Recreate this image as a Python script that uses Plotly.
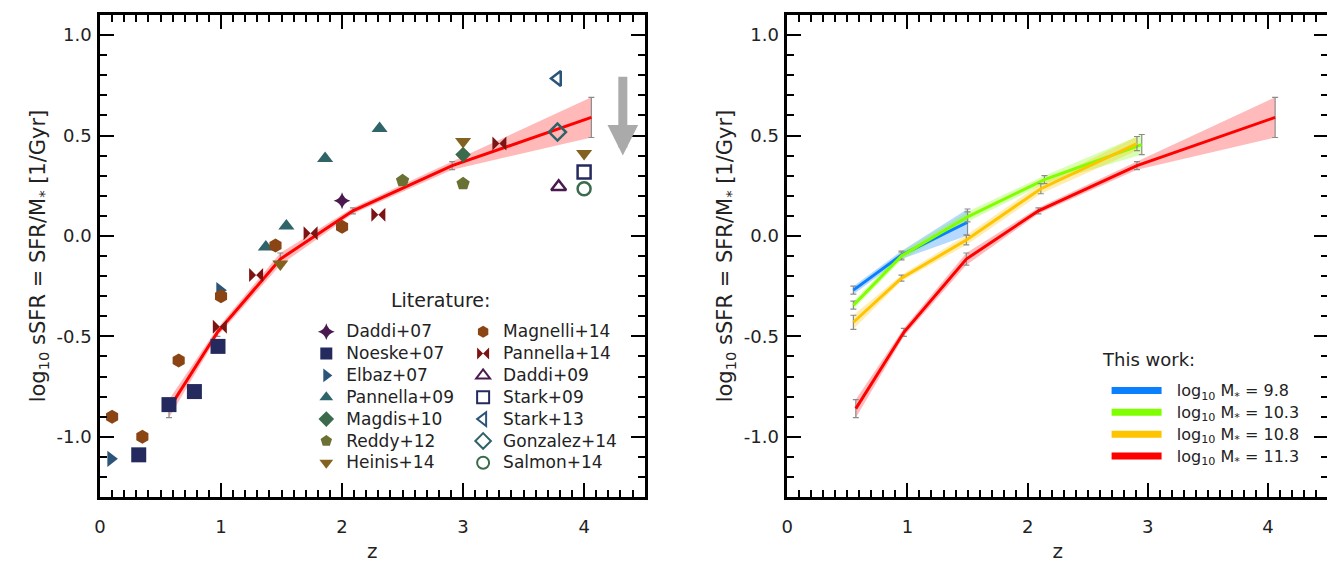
import plotly.graph_objects as go

# ---------------- data ----------------
# Literature points (z, log10 sSFR)
daddi07_z = [2.0];                      daddi07_y = [0.175]
noeske07_z = [0.32, 0.57, 0.78, 0.975]; noeske07_y = [-1.09, -0.84, -0.775, -0.55]
elbaz07_z = [0.09, 0.99];               elbaz07_y = [-1.11, -0.27]
pannella09_z = [1.37, 1.54, 1.86, 2.31]; pannella09_y = [-0.055, 0.05, 0.385, 0.535]
magdis10_z = [3.0];                     magdis10_y = [0.405]
reddy12_z = [2.5, 3.0];                 reddy12_y = [0.275, 0.26]
heinis14_z = [1.49, 3.0, 4.0];          heinis14_y = [-0.14, 0.47, 0.41]
magnelli14_z = [0.1, 0.35, 0.65, 1.0, 1.45, 2.0]
magnelli14_y = [-0.90, -1.0, -0.62, -0.30, -0.048, 0.046]
pannella14_z = [0.99, 1.29, 1.74, 2.3, 3.3]
pannella14_y = [-0.452, -0.195, 0.013, 0.105, 0.46]
daddi09_z = [3.79];                     daddi09_y = [0.245]
stark09_z = [4.0];                      stark09_y = [0.318]
stark13_z = [3.78];                     stark13_y = [0.784]
gonzalez14_z = [3.78];                  gonzalez14_y = [0.517]
salmon14_z = [4.0];                     salmon14_y = [0.235]

# This work: four stellar-mass bins
m98_z = [0.55, 0.95, 1.50];             m98_y = [-0.27, -0.095, 0.068];  m98_e = [0.02, 0.02, 0.066]
m103_z = [0.55, 0.95, 1.50, 2.14, 2.95]; m103_y = [-0.345, -0.10, 0.095, 0.28, 0.455]
m103_e = [0.02, 0.02, 0.025, 0.02, 0.05]
m108_z = [0.55, 0.95, 1.49, 2.11, 2.91]; m108_y = [-0.43, -0.21, -0.02, 0.235, 0.46]
m108_e = [0.035, 0.015, 0.025, 0.025, 0.035]
m113_z = [0.57, 0.97, 1.49, 2.09, 2.91, 4.06]; m113_y = [-0.86, -0.48, -0.115, 0.125, 0.35, 0.59]
m113_e = [0.045, 0.02, 0.03, 0.015, 0.02, 0.10]

ytick_vals = [-1.0, -0.5, 0.0, 0.5, 1.0]
ytick_text = ["-1.0", "-0.5", "0.0", "0.5", "1.0"]
xtick_vals = [0, 1, 2, 3, 4]
xtick_text = ["0", "1", "2", "3", "4"]

arrow_z = 4.32; arrow_top = 0.80; arrow_tip = 0.40

FONT = "DejaVu Sans"
fig = go.Figure()


def big(s, px):
    return '<span style="font-size:%dpx">%s</span>' % (px, s)


def band(z, y, e, color, xa, ya):
    up = [a + b for a, b in zip(y, e)]
    lo = [a - b for a, b in zip(y, e)]
    fig.add_trace(go.Scatter(x=list(z) + list(z)[::-1], y=up + lo[::-1], fill="toself",
                             fillcolor=color, line=dict(width=0), mode="lines",
                             showlegend=False, hoverinfo="skip", xaxis=xa, yaxis=ya))


def line(z, y, e, color, xa, ya, width=3):
    fig.add_trace(go.Scatter(x=z, y=y, mode="lines", line=dict(color=color, width=width),
                             error_y=dict(type="data", array=e, color="#8c8c8c",
                                          thickness=1.2, width=3),
                             showlegend=False, xaxis=xa, yaxis=ya))


# ---- left panel: red band + line ----
band(m113_z, m113_y, m113_e, "rgba(255,80,80,0.40)", "x", "y")
line(m113_z, m113_y, m113_e, "#ff0000", "x", "y")

# ---- literature markers ----
lit = [
    ("Daddi+07", daddi07_z, daddi07_y, "star-diamond", "#4a1a4f", "legend", 12),
    ("Noeske+07", noeske07_z, noeske07_y, "square", "#252a5e", "legend", 15),
    ("Elbaz+07", elbaz07_z, elbaz07_y, "triangle-right", "#2b5479", "legend", 14),
    ("Pannella+09", pannella09_z, pannella09_y, "triangle-up", "#2f6469", "legend", 14),
    ("Magdis+10", magdis10_z, magdis10_y, "diamond", "#3b6b4c", "legend", 12),
    ("Reddy+12", reddy12_z, reddy12_y, "pentagon", "#6b7033", "legend", 14),
    ("Heinis+14", heinis14_z, heinis14_y, "triangle-down", "#836220", "legend", 14),
    ("Magnelli+14", magnelli14_z, magnelli14_y, "hexagon", "#8b4515", "legend2", 14),
    ("Pannella+14", pannella14_z, pannella14_y, "bowtie", "#7d1414", "legend2", 14),
    ("Daddi+09", daddi09_z, daddi09_y, "triangle-up-open", "#4a1a4f", "legend2", 13),
    ("Stark+09", stark09_z, stark09_y, "square-open", "#252a5e", "legend2", 13),
    ("Stark+13", stark13_z, stark13_y, "triangle-left-open", "#2b5479", "legend2", 13),
    ("Gonzalez+14", gonzalez14_z, gonzalez14_y, "diamond-open", "#2f6469", "legend2", 13),
    ("Salmon+14", salmon14_z, salmon14_y, "circle-open", "#3b6b4c", "legend2", 13),
]
for name, z, y, sym, col, leg, sz in lit:
    is_open = sym.endswith("open")
    fig.add_trace(go.Scatter(
        x=z, y=y, mode="markers", name=big(name, 17), legend=leg,
        marker=dict(symbol=sym, size=sz, color=col,
                    line=dict(color=col, width=2.5 if is_open else 0)),
        xaxis="x", yaxis="y"))

# ---- right panel ----
series = [
    ("log<sub>10</sub> M<sub>*</sub> = 9.8", m98_z, m98_y, m98_e, "#0a80ff", "rgba(10,128,255,0.30)"),
    ("log<sub>10</sub> M<sub>*</sub> = 10.3", m103_z, m103_y, m103_e, "#80ff00", "rgba(128,255,0,0.30)"),
    ("log<sub>10</sub> M<sub>*</sub> = 10.8", m108_z, m108_y, m108_e, "#ffc400", "rgba(255,196,0,0.30)"),
    ("log<sub>10</sub> M<sub>*</sub> = 11.3", m113_z, m113_y, m113_e, "#ff0000", "rgba(255,60,60,0.35)"),
]
for name, z, y, e, col, bcol in series:
    band(z, y, e, bcol, "x2", "y2")
for name, z, y, e, col, bcol in series:
    line(z, y, e, col, "x2", "y2")
for name, z, y, e, col, bcol in series:
    fig.add_trace(go.Scatter(x=[None], y=[None], mode="lines",
                             name=big("&nbsp;&nbsp;" + name, 16), legend="legend3",
                             line=dict(color=col, width=7), xaxis="x2", yaxis="y2"))

# ---- gray arrow (upper-limit indicator) ----
fig.add_annotation(x=arrow_z, y=arrow_tip, ax=arrow_z, ay=arrow_top, xref="x", yref="y",
                   axref="x", ayref="y", showarrow=True, arrowhead=2, arrowsize=0.68,
                   arrowwidth=9, arrowcolor="#aaaaaa", text="")

# ---- legend titles ----
fig.add_annotation(text="Literature:", x=0.277, y=0.409, xref="paper", yref="paper",
                   showarrow=False, font=dict(family=FONT, size=19, color="#222"),
                   xanchor="center", yanchor="middle")
fig.add_annotation(text="This work:", x=0.814, y=0.285, xref="paper", yref="paper",
                   showarrow=False, font=dict(family=FONT, size=18, color="#222"),
                   xanchor="left", yanchor="middle")

ytitle = "log<sub>10</sub> sSFR = SFR/M<sub>*</sub> [1/Gyr]"


def xaxis_cfg(domain, anchor):
    return dict(domain=domain, anchor=anchor, range=[0, 4.5], tickmode="array",
                tickvals=xtick_vals, ticktext=xtick_text, ticks="inside", ticklen=14,
                tickwidth=2, tickcolor="black", showline=True, linewidth=2.5,
                linecolor="black", mirror="ticks", showgrid=False, zeroline=False,
                ticklabelstandoff=12,
                minor=dict(dtick=0.1, tick0=0, ticks="inside", ticklen=7, tickwidth=1.6,
                           tickcolor="black", showgrid=False),
                tickfont=dict(family=FONT, size=18, color="#222"),
                title=dict(text="z", font=dict(family=FONT, size=20, color="#222"), standoff=8))


def yaxis_cfg(anchor):
    return dict(domain=[0, 1], anchor=anchor, range=[-1.3, 1.1], tickmode="array",
                tickvals=ytick_vals, ticktext=ytick_text, ticks="inside", ticklen=14,
                tickwidth=2, tickcolor="black", showline=True, linewidth=2.5,
                linecolor="black", mirror="ticks", showgrid=False, zeroline=False,
                ticklabelstandoff=2,
                minor=dict(dtick=0.1, tick0=0, ticks="inside", ticklen=7, tickwidth=1.6,
                           tickcolor="black", showgrid=False),
                tickfont=dict(family=FONT, size=18, color="#222"),
                title=dict(text=ytitle, font=dict(family=FONT, size=21, color="#222"), standoff=6))


legfont = dict(family=FONT, size=14.5, color="#222")
fig.update_layout(
    width=1327, height=557,
    margin=dict(l=92, r=4, t=5, b=68),
    paper_bgcolor="white", plot_bgcolor="white",
    font=dict(family=FONT, color="#222"),
    xaxis=xaxis_cfg([0, 0.4435], "y"),
    yaxis=yaxis_cfg("x"),
    xaxis2=xaxis_cfg([0.5597, 1.0], "y2"),
    yaxis2=yaxis_cfg("x2"),
    legend=dict(x=0.168, y=0.376, xanchor="left", yanchor="top", font=legfont,
                bgcolor="rgba(0,0,0,0)", itemsizing="constant", tracegroupgap=0),
    legend2=dict(x=0.2957, y=0.376, xanchor="left", yanchor="top", font=legfont,
                 bgcolor="rgba(0,0,0,0)", itemsizing="constant", tracegroupgap=0),
    legend3=dict(x=0.8197, y=0.254, xanchor="left", yanchor="top", font=legfont,
                 bgcolor="rgba(0,0,0,0)", tracegroupgap=0, itemwidth=50),
    showlegend=True,
)

fig.write_html("out.html")
